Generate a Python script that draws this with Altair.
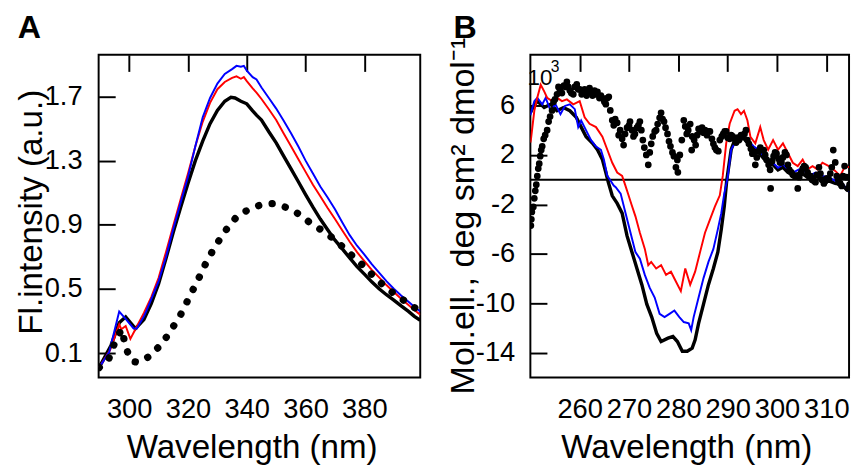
import altair as alt
import pandas as pd

FONT = "Liberation Sans"

# ---------------- Panel A : fluorescence spectra ----------------
A_TICKS_X = [300, 320, 340, 360, 380]
A_TICKS_Y = [0.1, 0.5, 0.9, 1.3, 1.7]

A_BLUE_NM = [289.8, 293.2, 296.6, 299.0, 301.5, 302.6, 305.0, 306.0, 308.7, 310.0, 312.5, 315.0,
             317.5, 320.0, 322.5, 325.0, 327.5, 330.0, 332.5, 335.0, 336.5, 338.0, 339.0, 340.0,
             342.0, 343.3, 345.0, 347.5, 350.0, 352.5, 355.0, 357.5, 360.0, 362.5, 365.0, 367.5,
             370.0, 372.5, 375.0, 377.5, 380.0, 382.5, 385.0, 387.5, 390.0, 392.5, 395.0, 397.0, 399.0]
A_BLUE_VAL = [0.012, 0.108, 0.36, 0.31, 0.255, 0.254, 0.33, 0.37, 0.49, 0.55, 0.70, 0.876,
              1.04, 1.20, 1.39, 1.57, 1.69, 1.78, 1.84, 1.87, 1.89, 1.885, 1.89, 1.86,
              1.82, 1.805, 1.755, 1.69, 1.624, 1.55, 1.472, 1.39, 1.30, 1.22, 1.139, 1.07,
              0.997, 0.915, 0.836, 0.77, 0.715, 0.655, 0.603, 0.55, 0.502, 0.46, 0.421, 0.39, 0.36]

A_RED_NM = [289.8, 293.5, 296.0, 296.6, 297.3, 298.8, 300.4, 302.1, 305.0, 307.5, 310.0, 312.5,
            315.0, 317.5, 320.0, 322.5, 325.0, 327.5, 330.0, 332.5, 335.0, 336.5, 338.0, 339.0,
            340.0, 342.0, 343.3, 345.0, 347.5, 350.0, 352.5, 355.0, 357.5, 360.0, 362.5, 365.0,
            367.5, 370.0, 372.5, 375.0, 377.5, 380.0, 382.5, 385.0, 387.5, 390.0, 392.5, 395.0,
            397.0, 399.0]
A_RED_VAL = [0.012, 0.12, 0.25, 0.28, 0.25, 0.27, 0.19, 0.25, 0.351, 0.45, 0.57, 0.73,
             0.896, 1.06, 1.219, 1.39, 1.542, 1.66, 1.745, 1.79, 1.815, 1.825, 1.81, 1.82,
             1.795, 1.75, 1.724, 1.684, 1.62, 1.553, 1.47, 1.391, 1.31, 1.23, 1.15, 1.078,
             1.005, 0.936, 0.865, 0.795, 0.73, 0.674, 0.62, 0.573, 0.525, 0.482, 0.44, 0.401,
             0.37, 0.34]

A_BLACK_NM = [289.8, 293.8, 296.6, 298.8, 302.1, 305.0, 307.5, 310.0, 312.5, 315.0, 317.5, 320.0,
              322.5, 325.0, 327.5, 330.0, 332.5, 334.6, 336.0, 338.0, 340.0, 342.0, 343.3, 345.0,
              347.5, 350.0, 352.5, 355.0, 357.5, 360.0, 362.5, 365.0, 367.5, 370.0, 372.5, 375.0,
              377.5, 380.0, 382.5, 385.0, 387.5, 390.0, 392.5, 395.0, 397.0, 399.0]
A_BLACK_VAL = [0.012, 0.149, 0.29, 0.327, 0.254, 0.31, 0.41, 0.533, 0.69, 0.856, 1.01, 1.159,
               1.30, 1.421, 1.53, 1.613, 1.67, 1.694, 1.69, 1.67, 1.654, 1.61, 1.583, 1.553,
               1.48, 1.411, 1.33, 1.25, 1.17, 1.088, 1.01, 0.936, 0.87, 0.805, 0.75, 0.694,
               0.64, 0.593, 0.545, 0.502, 0.465, 0.431, 0.395, 0.361, 0.33, 0.306]

A_DOT_NM = [289.8, 293.1, 294.7, 296.9, 297.6, 298.4, 299.8, 301.0, 302.9, 305.0, 307.4, 311.5,
            314.4, 317.2, 319.4, 321.6, 323.8, 326.0, 328.4, 331.1, 334.0, 337.1, 341.3, 345.5,
            349.8, 354.2, 358.7, 362.0, 366.2, 370.5, 374.6, 378.8, 383.2, 387.4, 391.6, 396.5, 399.0]
A_DOT_VAL = [0.012, 0.068, 0.149, 0.233, 0.25, 0.169, 0.088, 0.05, 0.044, 0.06, 0.088, 0.169,
             0.25, 0.33, 0.411, 0.492, 0.573, 0.658, 0.739, 0.819, 0.896, 0.961, 1.001, 1.03,
             1.033, 1.003, 0.957, 0.904, 0.86, 0.799, 0.728, 0.66, 0.579, 0.508, 0.452, 0.391, 0.36]

# ---------------- Panel B : CD spectra ----------------
B_TICKS_X = [260, 270, 280, 290, 300, 310]
B_TICKS_Y = [6, 2, -2, -6, -10, -14]

B_BLUE_NM = [250.0, 250.8, 251.4, 252.4, 253.1, 254.1, 255.1, 256.1, 257.0, 258.0, 259.0, 259.7,
             260.3, 261.3, 262.3, 263.3, 264.3, 264.9, 265.6, 266.3, 266.9, 267.3, 268.3, 269.3,
             270.3, 271.3, 272.2, 273.2, 274.2, 275.2, 276.2, 277.2, 278.2, 279.2, 280.2, 281.1,
             282.1, 282.6, 283.1, 284.1, 285.1, 286.1, 287.1, 288.0, 288.7, 289.3, 290.0, 290.7,
             291.4, 292.4, 293.3, 294.3, 295.3, 296.3, 297.3, 298.2, 299.2, 300.2, 301.2, 302.2,
             303.2, 304.5, 305.5, 306.5, 307.8, 309.2, 310.5, 311.8, 313.1, 314.1, 314.8, 315.0]
B_BLUE_VAL = [5.2, 6.35, 6.62, 6.09, 6.62, 5.57, 6.09, 5.30, 5.96, 6.09, 5.70, 4.25,
              4.78, 3.99, 3.20, 2.68, 2.42, 1.63, 0.31, -0.1, -0.47, -0.6, -1.12, -2.7,
              -4.28, -5.85, -6.38, -7.69, -8.74, -9.52, -10.84, -11.1, -10.84, -10.57, -11.1, -11.5,
              -11.6, -12.15, -11.1, -9.52, -7.95, -6.64, -5.59, -4.01, -2.7, -1.12, 0.19, 2.42,
              2.94, 3.20, 3.47, 3.07, 2.68, 2.42, 1.89, 1.63, 1.37, 0.97, 1.24, 0.84,
              0.58, 0.84, 0.71, 0.31, 0.58, 0.31, 0.18, -0.08, -0.21, -0.73, -1.0, -1.1]

B_RED_NM = [250.0, 250.1, 250.8, 251.4, 252.1, 252.8, 253.4, 254.4, 255.4, 256.4, 257.4, 258.7,
            260.0, 261.0, 262.0, 263.3, 264.6, 265.6, 266.6, 267.6, 268.6, 269.2, 269.9, 270.5,
            271.3, 272.2, 273.2, 273.9, 274.5, 275.5, 276.5, 277.5, 278.5, 279.5, 280.5, 281.4,
            282.4, 283.4, 284.4, 285.4, 286.4, 287.4, 288.4, 289.0, 289.7, 290.4, 291.4, 292.0,
            292.7, 293.3, 294.0, 294.6, 295.6, 296.6, 297.3, 298.2, 299.2, 300.2, 301.2, 302.2,
            303.2, 304.2, 305.2, 306.2, 307.2, 308.2, 309.2, 310.5, 311.8, 312.8, 313.8, 315.0]
B_RED_VAL = [3.0, 3.2, 5.57, 6.62, 7.67, 7.14, 6.62, 6.35, 6.62, 6.35, 6.49, 6.09,
             6.35, 5.04, 4.52, 4.25, 3.47, 2.42, 1.37, 0.58, 0.31, -0.4, -1.26, -2.0,
             -2.96, -4.28, -5.59, -6.9, -6.64, -7.17, -6.9, -7.69, -7.43, -8.22, -9.0, -7.17,
             -8.48, -7.43, -5.85, -4.28, -3.23, -2.17, -1.26, 0.31, 2.94, 4.52, 5.57, 5.70,
             5.30, 5.57, 4.78, 3.47, 2.94, 4.25, 3.20, 2.42, 3.20, 2.42, 2.94, 2.16,
             1.37, 1.10, 1.63, 0.84, 1.10, 0.84, 1.37, 1.10, 0.71, 0.31, 1.10, 0.97]

B_BLACK_NM = [250.0, 250.5, 251.4, 252.8, 254.1, 255.4, 256.7, 258.0, 259.3, 260.3, 261.3, 262.6,
              263.6, 264.6, 265.3, 265.8, 266.6, 267.6, 268.6, 269.6, 270.6, 271.6, 272.6, 273.6,
              274.6, 275.6, 276.5, 277.9, 278.9, 279.8, 280.8, 281.8, 282.8, 283.4, 284.1, 285.1,
              286.1, 287.1, 288.0, 288.7, 289.3, 289.8, 290.7, 291.4, 292.4, 293.3, 294.3, 295.3,
              296.3, 297.3, 298.2, 299.2, 300.2, 301.2, 302.2, 303.2, 304.5, 305.5, 306.5, 307.8,
              309.2, 310.5, 311.8, 313.1, 314.1, 315.0]
B_BLACK_VAL = [5.4, 5.83, 6.35, 5.83, 6.09, 5.57, 5.83, 5.57, 5.04, 4.25, 3.47, 2.94,
               2.42, 1.63, 0.58, -0.21, -1.3, -1.91, -2.7, -4.54, -5.85, -7.17, -8.48, -10.05,
               -11.1, -12.41, -13.07, -12.8, -12.67, -13.07, -13.86, -13.86, -13.6, -12.94, -11.6, -10.05,
               -8.48, -7.17, -5.85, -4.01, -2.17, -0.07, 2.42, 3.20, 3.3, 3.3, 2.9, 2.5,
               2.2, 1.7, 1.4, 1.2, 0.8, 1.0, 0.6, 0.4, 0.5, 0.4, 0.1, 0.3,
               0.0, -0.1, -0.3, -0.4, -0.8, -1.0]

B_DOT_NM = [250.1, 250.2, 250.3, 250.6, 250.8, 251.0, 251.2, 251.4, 251.6, 251.8, 252.0, 252.2,
            252.4, 252.7, 253.0, 253.4, 253.7, 254.0, 254.4, 254.7, 255.0, 255.4, 255.7, 256.0,
            256.4, 256.8, 257.1, 257.4, 257.7, 258.0, 258.3, 258.7, 259.0, 259.4, 259.7, 260.0,
            260.4, 260.7, 261.0, 261.4, 261.7, 262.0, 262.3, 262.6, 263.0, 263.3, 263.6, 264.0,
            264.3, 264.6, 265.0, 265.3, 265.6, 265.9, 266.2, 266.6, 266.9, 267.2, 267.6, 267.9,
            268.2, 268.6, 268.9, 269.2, 269.6, 270.0, 270.2, 270.6, 270.9, 271.2, 271.6, 271.9,
            272.2, 272.5, 272.8, 273.1, 273.5, 273.9, 274.2, 274.5, 274.8, 275.2, 275.5, 275.8,
            276.2, 276.5, 276.8, 277.1, 277.4, 277.8, 278.1, 278.4, 278.8, 279.1, 279.5, 279.8,
            279.9, 280.3, 280.7, 281.1, 281.4, 281.7, 282.0, 282.4, 282.7, 282.8, 283.2, 283.5,
            283.8, 284.1, 284.5, 284.8, 285.1, 285.4, 285.8, 286.1, 286.4, 286.8, 287.1, 287.4,
            287.7, 288.1, 288.4, 288.8, 289.1, 289.4, 289.7, 290.0, 290.4, 290.7, 291.0, 291.4,
            291.7, 292.0, 292.3, 292.7, 293.0, 293.4, 293.7, 294.0, 294.3, 294.7, 295.0, 295.3,
            295.6, 295.9, 296.3, 296.6, 297.0, 297.3, 297.6, 297.9, 298.3, 298.6, 298.7, 299.0,
            299.3, 299.6, 299.9, 300.3, 300.6, 300.9, 301.2, 301.6, 301.9, 302.2, 302.5, 302.9,
            303.2, 303.6, 303.9, 304.2, 304.5, 304.9, 305.2, 305.5, 305.8, 306.2, 306.5, 306.8,
            307.1, 307.5, 307.8, 308.1, 308.5, 308.8, 309.1, 309.5, 309.8, 310.1, 310.5, 310.8,
            311.1, 311.4, 311.8, 312.1, 312.4, 312.8, 313.1, 313.4, 313.7, 314.1, 314.4, 314.7]
B_DOT_VAL = [-3.7, -3.2, -2.6, -2.2, -1.5, -0.9, -0.4, 0.3, 0.9, 1.3, 1.9, 2.4,
             2.7, 3.3, 3.6, 4.0, 4.7, 5.1, 5.6, 6.3, 6.5, 6.9, 7.5, 7.2,
             7.0, 7.6, 7.5, 7.9, 7.5, 7.2, 7.0, 6.9, 7.5, 7.7, 7.3, 7.3,
             6.9, 7.0, 7.3, 6.8, 7.1, 7.4, 7.0, 6.8, 7.2, 6.9, 7.1, 6.6,
             6.8, 6.6, 6.3, 6.1, 6.6, 6.7, 5.6, 4.8, 4.4, 4.9, 4.6, 3.6,
             4.0, 3.3, 2.8, 3.7, 4.2, 4.4, 4.7, 4.0, 3.5, 3.7, 4.2, 4.4,
             4.7, 4.0, 3.2, 2.6, 2.0, 1.2, 2.2, 2.9, 3.5, 3.9, 4.0, 4.5,
             5.0, 5.4, 4.9, 4.7, 4.2, 3.7, 3.1, 2.7, 2.2, 1.9, 1.0, 1.6,
             0.6, 2.0, 3.2, 4.8, 4.3, 3.7, 4.0, 4.5, 2.4, 3.5, 3.2, 2.8,
             3.6, 4.1, 3.9, 4.2, 3.8, 4.0, 3.6, 3.9, 3.9, 3.3, 2.9, 2.6,
             2.4, 2.3, 3.2, 3.5, 3.7, 3.9, 3.9, 3.4, 3.3, 3.6, 3.5, 3.3,
             3.0, 3.4, 3.2, 3.6, 3.5, 3.7, 4.0, 3.2, 2.9, 2.5, 2.1, 2.2,
             1.2, 1.8, 2.3, 2.6, 2.4, 2.4, 2.0, 1.6, 1.2, 0.8, -0.7, 1.5,
             1.9, 2.2, 2.1, 1.7, 1.4, 1.4, 1.8, 2.2, 2.0, 1.2, 0.8, 0.6,
             0.4, 0.3, 0.3, -0.7, 0.2, 0.6, 0.9, 1.1, 1.0, 0.6, 0.3, 0.3,
             0.0, -0.1, -0.2, 0.4, 1.0, 0.5, 0.0, -0.3, -0.1, 0.1, 0.0, 0.5,
             1.0, 2.4, 1.4, 0.3, 0.0, -0.3, -0.5, 0.3, 1.1, 0.2, -0.7, -0.4]

B_ZERO = [0]
B_EXP_BASE = "10"
B_EXP_POWER = "3"


def frame(nm, val):
    return pd.DataFrame({"nm": nm, "val": val})


def axis(values, title, is_x, title_x, title_y, label_pad, label_expr, title_size=34):
    kw = dict(
        values=values, title=title, grid=True, gridColor="black", gridWidth=2,
        gridOpacity=1, gridDash=[17, 4000], ticks=False, tickSize=0, domain=False,
        labelFont=FONT, labelFontSize=28, labelColor="black", labelPadding=label_pad,
        labelOverlap=False, labelFlush=False, labelExpr=label_expr,
        titleFont=FONT, titleFontSize=title_size, titleFontWeight="normal", titleColor="black",
        titleX=title_x, titleY=title_y, titleAlign="center",
    )
    if is_x:
        kw.update(titleBaseline="top")
    else:
        kw.update(titleAngle=270, titleBaseline="bottom")
    return alt.Axis(**kw)


def panel_title(letter, offset, dx=0):
    return alt.Title(letter, anchor="start", frame="bounds", font=FONT, fontSize=33,
                     fontWeight="bold", color="black", offset=offset, dx=dx)


# ---- Panel A ----
xA = alt.X("nm:Q", scale=alt.Scale(domain=[289.6, 399.0], nice=False, zero=False),
           axis=axis(A_TICKS_X, "Wavelength (nm)", True, 157, 55, 19, "'' + datum.value"))
yA = alt.Y("val:Q", scale=alt.Scale(domain=[-0.05, 1.959], nice=False, zero=False),
           axis=axis(A_TICKS_Y, "Fl.intensity (a.u.)", False, -52, 161, 17,
                     "format(datum.value, '.1f')"))

a_black = alt.Chart(frame(A_BLACK_NM, A_BLACK_VAL)).mark_line(
    color="black", strokeWidth=3.5, clip=True).encode(x=xA, y=yA)
a_red = alt.Chart(frame(A_RED_NM, A_RED_VAL)).mark_line(
    color="#ff0000", strokeWidth=2, clip=True).encode(x=xA, y=yA)
a_blue = alt.Chart(frame(A_BLUE_NM, A_BLUE_VAL)).mark_line(
    color="#0000ff", strokeWidth=2, clip=True).encode(x=xA, y=yA)
a_dots = alt.Chart(frame(A_DOT_NM, A_DOT_VAL)).mark_line(
    color="black", strokeWidth=7.5, strokeCap="round", strokeDash=[0.1, 14], clip=True
).encode(x=xA, y=yA)

panelA = alt.layer(a_black, a_red, a_blue, a_dots).properties(
    width=330, height=331, title=panel_title("A", 10, dx=3))

# ---- Panel B ----
xB = alt.X("nm:Q", scale=alt.Scale(domain=[250.0, 314.6], nice=False, zero=False),
           axis=axis(B_TICKS_X, "Wavelength (nm)", True, 160, 55, 19, "'' + datum.value"))
yB = alt.Y("val:Q", scale=alt.Scale(domain=[-15.97, 10.09], nice=False, zero=False),
           axis=axis(B_TICKS_Y, "Mol.ell., deg sm\u00b2 dmol\u207b\u00b9", False, -51, 165, 16,
                     "'' + datum.value", title_size=35))

b_zero = alt.Chart(pd.DataFrame({"val": B_ZERO})).mark_rule(
    color="black", strokeWidth=2).encode(y=yB)
b_black = alt.Chart(frame(B_BLACK_NM, B_BLACK_VAL)).mark_line(
    color="black", strokeWidth=3.5, clip=True).encode(x=xB, y=yB)
b_blue = alt.Chart(frame(B_BLUE_NM, B_BLUE_VAL)).mark_line(
    color="#0000ff", strokeWidth=2, clip=True).encode(x=xB, y=yB)
b_red = alt.Chart(frame(B_RED_NM, B_RED_VAL)).mark_line(
    color="#ff0000", strokeWidth=2, clip=True).encode(x=xB, y=yB)
b_dots = alt.Chart(frame(B_DOT_NM, B_DOT_VAL)).mark_circle(
    color="black", size=48, opacity=1, clip=True).encode(x=xB, y=yB)

anchor = frame([250.0], [7.67])
b_exp1 = alt.Chart(anchor).mark_text(
    text=B_EXP_BASE, align="left", baseline="alphabetic", font=FONT, fontSize=23,
    color="black", dx=-3).encode(x=xB, y=yB)
b_exp2 = alt.Chart(anchor).mark_text(
    text=B_EXP_POWER, align="left", baseline="alphabetic", font=FONT, fontSize=16,
    color="black", dx=21, dy=-13).encode(x=xB, y=yB)

panelB = alt.layer(b_zero, b_black, b_blue, b_red, b_dots, b_exp1, b_exp2).properties(
    width=327, height=331, title=panel_title("B", -8, dx=7))

chart = alt.hconcat(panelA, panelB, spacing=24).properties(
    padding={"left": 5, "top": -2, "right": 0, "bottom": 0},
    background="white",
).configure_view(stroke="black", strokeWidth=2)

chart.save("out.html", embed_options={"renderer": "svg", "actions": False})
